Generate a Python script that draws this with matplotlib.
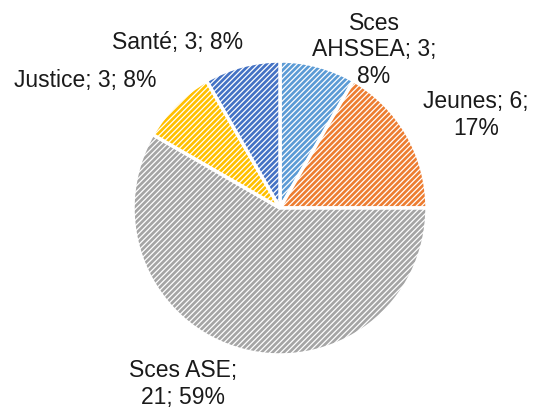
import matplotlib.pyplot as plt

# data
categories = ["Sces AHSSEA", "Jeunes", "Sces ASE", "Justice", "Santé"]
values = [3, 6, 21, 3, 3]
percents = [8, 17, 59, 8, 8]   # as printed on the chart
colors = ["#5B9BD5", "#ED7D31", "#A5A5A5", "#FFC000", "#4472C4"]

# label text as in the chart (line breaks)
label_fmt = ["Sces\nAHSSEA; {v};\n{p}%", "Jeunes; {v};\n{p}%", "Sces ASE;\n{v}; {p}%",
             "Justice; {v}; {p}%", "Santé; {v}; {p}%"]
# label centers in units of pie radius
label_pos = [(0.64, 1.075), (1.333, 0.633), (-0.66, -1.197), (-1.327, 0.864), (-0.694, 1.129)]

plt.rcParams['font.family'] = ['Liberation Sans', 'DejaVu Sans']
plt.rcParams['hatch.linewidth'] = 0.9

fig = plt.figure(figsize=(5.37, 4.08), dpi=100)
ax = fig.add_axes([0, 0, 1, 1])

wedges, _ = ax.pie(values, colors=colors, startangle=90, counterclock=False,
                   radius=1.0, wedgeprops=dict(edgecolor='white', linewidth=2.5))
for w in wedges:
    w.set_hatch('//////')

for fmt, v, p, (x, y) in zip(label_fmt, values, percents, label_pos):
    ax.text(x, y, fmt.format(v=v, p=p), ha='center', va='center',
            fontsize=16.5, color='#1a1a1a', linespacing=1.2)

r = 147.0
ax.set_xlim(-280 / r, (537 - 280) / r)
ax.set_ylim(-(408 - 208) / r, 208 / r)
ax.axis('off')

fig.savefig('out.png', dpi=100)
